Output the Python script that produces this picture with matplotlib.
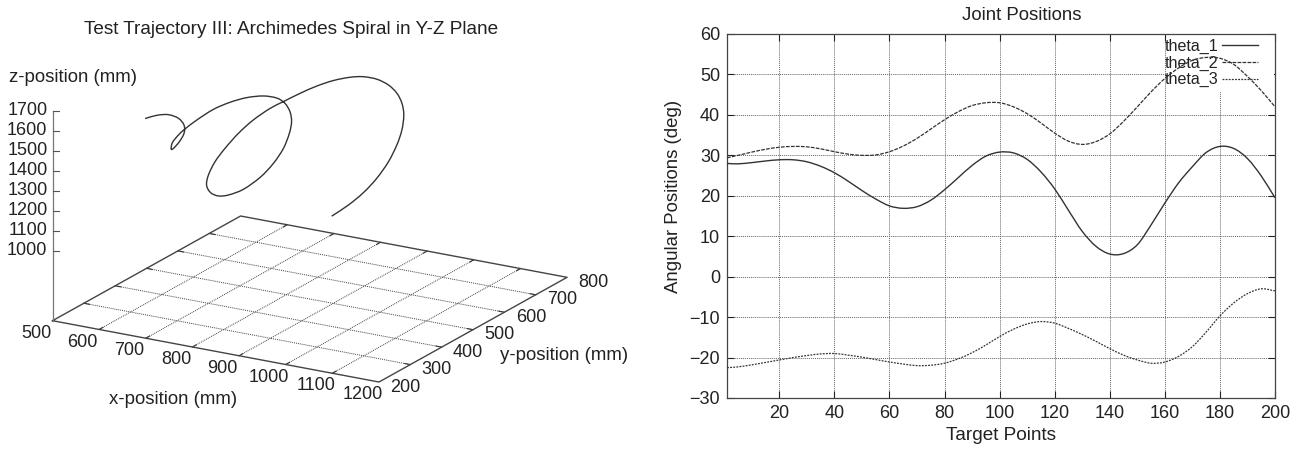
import numpy as np
import matplotlib
matplotlib.use("Agg")
import matplotlib.pyplot as plt
from matplotlib.lines import Line2D
from matplotlib.patches import PathPatch, Rectangle
from matplotlib.path import Path

plt.rcParams["font.family"] = ["Liberation Sans", "DejaVu Sans"]

# Spiral (mm)
spiral_x = 700
spiral_y = [198, 235, 272, 304, 322, 322, 307, 288, 281, 285, 304, 325, 363, 416, 469,
            522, 575, 618, 644, 660, 665, 658, 639, 607, 565, 511, 464, 432, 407, 394,
            400, 421, 453, 496, 543, 596, 639, 692, 745, 799, 852, 894, 937, 974, 1001,
            1017, 1023, 1017, 1001, 974, 937, 894, 846, 793]
spiral_z = [1750, 1734, 1705, 1659, 1609, 1568, 1539, 1522, 1526, 1554, 1575, 1587, 1599,
            1606, 1595, 1572, 1534, 1486, 1437, 1381, 1327, 1275, 1216, 1169, 1136, 1123,
            1136, 1159, 1197, 1246, 1292, 1340, 1379, 1417, 1442, 1453, 1450, 1445, 1435,
            1416, 1386, 1352, 1302, 1241, 1176, 1112, 1048, 979, 918, 857, 807, 772, 752, 743]
x_ticks = [500, 600, 700, 800, 900, 1000, 1100, 1200]
y_ticks = [200, 300, 400, 500, 600, 700, 800]
z_ticks = [1000, 1100, 1200, 1300, 1400, 1500, 1600, 1700]

# Joint positions (deg)
target_points = [1, 5, 10, 15, 20, 25, 30, 35, 40, 45, 50, 55, 60, 65, 70, 75, 80, 85,
                 90, 95, 100, 105, 110, 115, 120, 125, 130, 135, 140, 145, 150, 155,
                 160, 165, 170, 175, 180, 185, 190, 195, 200]
theta_1 = [28, 27.9, 28.2, 28.6, 28.9, 28.9, 28.4, 27.3, 25.7, 23.6, 21.3, 19.2, 17.5,
           16.9, 17.3, 18.9, 21.5, 24.5, 27.5, 29.8, 30.8, 30.6, 29, 25.9, 21.7,
           16.4, 11.2, 7.5, 5.6, 5.7, 7.9, 12.8, 18.2, 23.2, 27.2, 30.7, 32.2, 31.7, 29.2,
           24.9, 19.5]
theta_2 = [29.4, 30, 30.8, 31.5, 32, 32.2, 32.1, 31.6, 30.9, 30.3, 30, 30.1, 30.9, 32.3,
           34.2, 36.5, 38.8, 40.8, 42.3, 43, 43, 42, 40.3, 38, 35.5, 33.5, 32.7, 33.4,
           35.3, 38.4, 42, 45.7, 49, 51.6, 53.5, 54.2, 54, 52.5, 49.5, 46, 42]
theta_3 = [-22.5, -22.3, -21.8, -21.2, -20.6, -20, -19.5, -19.1, -19, -19.4, -19.9,
           -20.5, -21.1, -21.6, -22, -21.9, -21.4, -20.3, -18.8, -16.9, -14.8, -13,
           -11.7, -11.1, -11.5, -12.8, -14.3, -16, -17.8, -19.4, -20.6, -21.4, -21.1,
           -19.7, -17.3, -13.7, -9.7, -6.5, -4.2, -3, -3.5]

W, H = 1298, 449
INK = "#222222"
FS = 13
LABEL_FS = 13.4

fig = plt.figure(figsize=(W / 100, H / 100), dpi=100)


# draws the read points as one bezier curve, gnuplot's output is smooth too
def curve_through(ax, xs, ys, **kw):
    pts = np.column_stack([xs, ys]).astype(float)
    tan = np.gradient(pts, axis=0) / 3
    verts = [pts[0]]
    codes = [Path.MOVETO]
    for i in range(len(pts) - 1):
        verts += [pts[i] + tan[i], pts[i + 1] - tan[i + 1], pts[i + 1]]
        codes += [Path.CURVE4] * 3
    ax.add_patch(PathPatch(Path(verts, codes), fill=False, **kw))


# left panel: gnuplot style orthographic view, drawn on a pixel canvas
canvas = fig.add_axes([0, 0, 1, 1])
canvas.set_xlim(0, W)
canvas.set_ylim(H, 0)
canvas.axis("off")


def project(x, y, z=1000):
    x, y, z = np.asarray(x, float), np.asarray(y, float), np.asarray(z, float)
    px = 52.5 + (x - 500) * 0.4664 + (y - 200) * 0.3135
    py = 250.7 + (x - 500) * 0.0876 - (y - 200) * 0.1745 - (z - 1000) * 0.2
    return px, py


BASE_Z = 650
for xt in x_ticks[1:-1]:
    canvas.plot(*project([xt, xt], [200, 800], BASE_Z), color="#444444", lw=0.7, ls=(0, (1, 1)))
    canvas.plot(*project([xt, xt], [200, 212], BASE_Z), color="#333333", lw=0.8)
    canvas.plot(*project([xt, xt], [788, 800], BASE_Z), color="#333333", lw=0.8)
for yt in y_ticks[1:-1]:
    canvas.plot(*project([500, 1200], [yt, yt], BASE_Z), color="#444444", lw=0.7, ls=(0, (1, 1)))
    canvas.plot(*project([500, 512], [yt, yt], BASE_Z), color="#333333", lw=0.8)
    canvas.plot(*project([1188, 1200], [yt, yt], BASE_Z), color="#333333", lw=0.8)

frame_x = [500, 1200, 1200, 500, 500]
frame_y = [200, 200, 800, 800, 200]
canvas.plot(*project(frame_x, frame_y, BASE_Z), color="#444444", lw=1.0)
canvas.plot(*project([500, 500], [200, 200], [BASE_Z, 1700]), color="#777777", lw=0.9)

for xt in x_ticks:
    px, py = project(xt, 200, BASE_Z)
    canvas.text(px - 16.5, py + 12.7, str(xt), ha="center", va="center", fontsize=FS, color=INK)
for yt in y_ticks:
    px, py = project(1200, yt, BASE_Z)
    canvas.text(px + 26.5, py + 5, str(yt), ha="center", va="center", fontsize=FS, color=INK)
for zt in z_ticks:
    px, py = project(500, 200, zt)
    canvas.plot([px, px + 6], [py, py], color="#555555", lw=0.8)
    canvas.text(px - 5, py, str(zt), ha="right", va="center", fontsize=FS, color=INK)

sx, sy = project(spiral_x, spiral_y, spiral_z)
curve_through(canvas, sx, sy, edgecolor="#333333", lw=1.0)

canvas.text(291, 30, "Test Trajectory III: Archimedes Spiral in Y-Z Plane", ha="center", va="center",
            fontsize=13.7, color=INK)
canvas.text(73, 77, "z-position (mm)", ha="center", va="center", fontsize=LABEL_FS, color=INK)
canvas.text(173, 399, "x-position (mm)", ha="center", va="center", fontsize=LABEL_FS, color=INK)
canvas.text(564, 356, "y-position (mm)", ha="center", va="center", fontsize=LABEL_FS, color=INK)

# right panel
ax = fig.add_axes([727 / W, 1 - 398 / H, (1275 - 727) / W, (398 - 34) / H])
solid = {"edgecolor": "#333333", "lw": 1.0, "ls": "-"}
dashed = {"edgecolor": "#333333", "lw": 0.9, "ls": (0, (3, 1))}
dotted = {"edgecolor": "#333333", "lw": 0.9, "ls": (0, (1.5, 1))}
curve_through(ax, target_points, theta_1, zorder=4, **solid)
curve_through(ax, target_points, theta_2, zorder=4, **dashed)
curve_through(ax, target_points, theta_3, zorder=4, **dotted)
ax.set_xlim(1, 200)
ax.set_ylim(-30, 60)
ax.set_xticks(range(20, 201, 20))
ax.set_yticks(range(-30, 61, 10))
ax.grid(True, color="#666666", lw=0.7, ls=(0, (1, 1)), zorder=1)
ax.set_axisbelow(True)
ax.tick_params(direction="in", top=True, right=True, length=5, width=0.8, labelsize=FS,
               colors=INK, pad=5)
for spine in ax.spines.values():
    spine.set_color("#444444")
    spine.set_linewidth(0.9)
ax.text(0.537, 1.05, "Joint Positions", transform=ax.transAxes, ha="center", va="center",
        fontsize=13.4, color=INK)
ax.set_xlabel("Target Points", fontsize=13.7, color=INK, labelpad=4)
ax.set_ylabel("Angular Positions (deg)", fontsize=LABEL_FS, color=INK)
ax.yaxis.set_label_coords(-0.082, 0.555)

# the key sits on a white box that hides the grid but not the curves
ax.add_patch(Rectangle((0.803, 0.84), 0.195, 0.158, transform=ax.transAxes, facecolor="white",
                       edgecolor="none", zorder=1.5))
handles = [Line2D([], [], color="#333333", lw=1.0, ls="-", label="theta_1"),
           Line2D([], [], color="#333333", lw=0.9, ls=(0, (3, 1)), label="theta_2"),
           Line2D([], [], color="#333333", lw=0.9, ls=(0, (1.5, 1)), label="theta_3")]
leg = ax.legend(handles=handles, loc="upper right", bbox_to_anchor=(0.977, 1.0), markerfirst=False,
                frameon=False, fontsize=11.6, labelspacing=0.1, borderpad=0.2, handlelength=2.2,
                handletextpad=0.25, borderaxespad=0.1, labelcolor=INK)
leg.set_zorder(2)

fig.savefig("out.png", dpi=100)
